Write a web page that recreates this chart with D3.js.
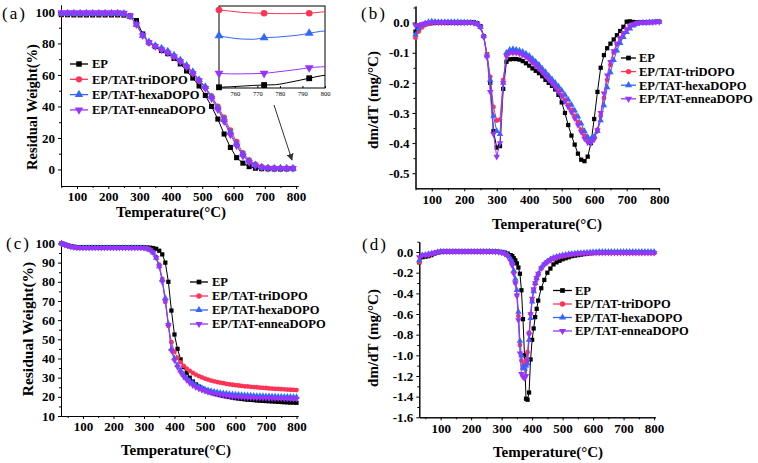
<!DOCTYPE html>
<html><head><meta charset="utf-8">
<script src="https://cdn.jsdelivr.net/npm/d3@7"></script>
<style>body{margin:0;background:#fff} svg{display:block} text{font-family:"Liberation Serif","Times New Roman",serif}</style>
</head><body><svg id="c" width="758" height="463"></svg>
<script>
// ---------- shared ----------
const seriesNames = ["EP", "EP/TAT-triDOPO", "EP/TAT-hexaDOPO", "EP/TAT-enneaDOPO"];
const xTicks = [100, 200, 300, 400, 500, 600, 700, 800];
const xMinor = [50, 150, 250, 350, 450, 550, 650, 750];

// ---------- panel (a) TGA ----------
const tempA = [50,70,90,110,130,150,170,190,210,230,250,270,290,310,330,350,370,390,410,430,450,470,490,510,530,550,570,590,610,630,650,670,690,710,730,750,770,790];
const epA = [98.3,98.2,98.1,98.1,98.1,98.1,98.1,98.1,98.1,98.1,98,97.5,94.5,86,80.5,78,75.5,73.5,70.5,67,62.5,58,53,47,40,32,22.5,14,7.5,4,1.8,0.8,0.5,0.4,0.3,0.3,0.35,0.5];
const triA = [99,99,99,99,99,99,99,99,99,99,98.8,97,92,85,80.5,78.5,76.5,74.5,72,69,65.5,61,56.5,52,46.5,40,33,25,17.6,10.5,6,3.3,1.8,1.2,1,0.9,0.9,0.9];
const hexaA = [99.2,99.2,99.2,99.2,99.2,99.2,99.2,99.2,99.2,99.2,99,97,92,85,81,78.5,77,75,72.5,69.5,66,62,57,52.5,46,39,31.5,23.5,16,9.5,5.2,2.8,1.4,1,0.8,0.8,0.8,0.8];
const enneaA = [99.6,99.6,99.6,99.6,99.6,99.6,99.6,99.6,99.6,99.6,99.3,97.5,92,85,80.5,78,76,74,71.5,68.5,65,61,56.5,51.5,45,38,30.5,22,15,8.5,4.5,2.3,1.1,0.8,0.7,0.7,0.7,0.7];
const yTicksA = [0, 20, 40, 60, 80, 100];

// inset of (a)
const tempInset = [753,758,763,768,773,778,783,788,793,798,800];
const epInset = [0.207,0.212,0.218,0.225,0.229,0.232,0.25,0.272,0.295,0.318,0.324];
const triInset = [0.961,0.95,0.938,0.932,0.929,0.926,0.925,0.926,0.929,0.94,0.944];
const hexaInset = [0.71,0.69,0.678,0.675,0.69,0.695,0.705,0.715,0.734,0.752,0.756];
const enneaInset = [0.343,0.338,0.338,0.34,0.343,0.355,0.368,0.382,0.398,0.406,0.408];
const insetMarkT = [753, 773, 793];
const insetTicks = [760, 770, 780, 790, 800];

// ---------- panel (b) DTG ----------
const tempB = d3.range(50, 801, 10);
const epB = [-0.03,-0.02,-0.012,-0.006,-0.003,-0.002,-0.001,0,0,0,0,0,0,0,0,0,0,0.001,0.001,-0.002,-0.012,-0.045,-0.105,-0.2,-0.36,-0.415,-0.41,-0.22,-0.13,-0.122,-0.121,-0.121,-0.123,-0.128,-0.135,-0.143,-0.152,-0.16,-0.168,-0.178,-0.19,-0.2,-0.21,-0.222,-0.24,-0.265,-0.3,-0.34,-0.375,-0.405,-0.435,-0.455,-0.46,-0.445,-0.4,-0.32,-0.23,-0.15,-0.108,-0.085,-0.07,-0.056,-0.042,-0.028,-0.014,0.003,0.004,0.002,0.001,0.001,0.001,0.001,0.002,0.002,0.003,0.003];
const triB = [-0.05,-0.03,-0.016,-0.008,-0.004,-0.001,0,0,0,0,0.001,0.001,0.001,0.001,0,0,0,0,-0.001,-0.004,-0.015,-0.045,-0.105,-0.18,-0.28,-0.325,-0.322,-0.19,-0.11,-0.1,-0.1,-0.1,-0.102,-0.106,-0.112,-0.12,-0.13,-0.14,-0.15,-0.162,-0.174,-0.186,-0.198,-0.21,-0.224,-0.24,-0.256,-0.273,-0.29,-0.31,-0.33,-0.355,-0.375,-0.388,-0.39,-0.38,-0.355,-0.31,-0.25,-0.19,-0.14,-0.1,-0.072,-0.052,-0.036,-0.024,-0.014,-0.007,-0.003,-0.001,0,0,0.001,0.001,0.002,0.002];
const hexaB = [-0.04,-0.02,-0.008,-0.002,0.002,0.004,0.003,0.002,0.002,0.002,0.002,0.002,0.002,0.002,0.001,0.001,0,0,-0.001,-0.004,-0.015,-0.045,-0.11,-0.19,-0.31,-0.36,-0.37,-0.2,-0.1,-0.09,-0.088,-0.09,-0.093,-0.097,-0.103,-0.11,-0.12,-0.13,-0.14,-0.152,-0.164,-0.176,-0.188,-0.2,-0.212,-0.225,-0.24,-0.256,-0.273,-0.292,-0.312,-0.335,-0.36,-0.38,-0.386,-0.378,-0.36,-0.325,-0.275,-0.215,-0.165,-0.125,-0.093,-0.068,-0.048,-0.032,-0.02,-0.01,-0.004,-0.001,0,0,0.001,0.001,0.002,0.002];
const enneaB = [-0.01,-0.008,-0.005,-0.003,-0.001,0,0,0,0,0,0,0,-0.001,-0.001,-0.001,-0.001,0,0,-0.002,-0.005,-0.016,-0.048,-0.115,-0.23,-0.37,-0.445,-0.4,-0.2,-0.11,-0.1,-0.1,-0.1,-0.103,-0.108,-0.114,-0.122,-0.132,-0.142,-0.153,-0.165,-0.177,-0.19,-0.202,-0.215,-0.23,-0.245,-0.262,-0.28,-0.298,-0.318,-0.34,-0.363,-0.385,-0.398,-0.4,-0.388,-0.358,-0.3,-0.235,-0.175,-0.13,-0.095,-0.07,-0.05,-0.035,-0.022,-0.012,-0.005,-0.002,0,0,0,0.001,0.001,0.002,0.002];
const yTicksB = [0, -0.1, -0.2, -0.3, -0.4, -0.5];
const yMinorB = [0.05, -0.05, -0.15, -0.25, -0.35, -0.45];

// ---------- panel (c) TGA ----------
const tempC = d3.range(30, 801, 10);
const epC = [100,99.5,99,98.6,98.3,98.1,98,98,98,98,98,98,98,98,98,98,98,98,98,98,98,98,98,98,98,98,98,98,97.9,97.8,97.6,97.2,96.2,94.3,90,80,65,52.5,45,39.5,35.5,32.5,30,28,26.5,25.3,24.3,23.5,22.9,22.3,21.8,21.3,20.9,20.5,20.2,19.9,19.6,19.3,19.1,18.9,18.7,18.5,18.4,18.3,18.1,18,17.9,17.8,17.7,17.6,17.5,17.4,17.3,17.2,17.1,17,17,16.9];
const triC = [100,99.3,98.8,98.3,98,97.8,97.7,97.7,97.7,97.7,97.7,97.7,97.7,97.7,97.7,97.7,97.7,97.7,97.7,97.7,97.7,97.7,97.7,97.7,97.7,97.7,97.7,97.7,97.4,96.8,95.5,93,89,81.5,69.5,57,48.5,43.5,40.5,38,36.2,34.7,33.5,32.5,31.6,30.8,30.1,29.5,29,28.5,28.1,27.7,27.4,27.1,26.8,26.5,26.3,26.1,25.9,25.7,25.5,25.4,25.2,25.1,25,24.8,24.7,24.6,24.4,24.3,24.2,24.1,24,23.9,23.8,23.7,23.6,23.5];
const hexaC = [100,99.3,98.8,98.3,98,97.8,97.7,97.7,97.7,97.7,97.7,97.7,97.7,97.7,97.7,97.7,97.7,97.7,97.7,97.7,97.7,97.7,97.7,97.7,97.7,97.7,97.7,97.6,97.3,96.6,95.2,92.5,88,81,71.5,58,45,40,36.5,33.8,31.5,29.8,28.3,27.1,26.1,25.3,24.6,24,23.5,23.1,22.7,22.4,22.1,21.9,21.7,21.5,21.3,21.2,21.1,21,20.9,20.8,20.7,20.6,20.5,20.5,20.4,20.3,20.3,20.2,20.2,20.1,20.1,20,20,20,19.9,19.9];
const enneaC = [100,99.3,98.8,98.3,98,97.8,97.7,97.7,97.7,97.7,97.7,97.7,97.7,97.7,97.7,97.7,97.7,97.7,97.7,97.7,97.7,97.7,97.7,97.7,97.7,97.7,97.7,97.6,97.3,96.6,95.2,92.5,88,80,70,57.5,44,39,35.5,32.8,30.5,28.7,27.2,26,25,24.2,23.5,23,22.5,22.1,21.7,21.4,21.1,20.8,20.6,20.4,20.2,20.1,20,19.9,19.8,19.7,19.6,19.6,19.5,19.5,19.4,19.4,19.3,19.3,19.2,19.2,19.2,19.1,19.1,19.1,19,19];
const yTicksC = [10, 20, 30, 40, 50, 60, 70, 80, 90, 100];
const yMinorC = [15, 25, 35, 45, 55, 65, 75, 85, 95];

// ---------- panel (d) DTG ----------
const tempD = [30,40,50,60,70,80,90,100,110,120,130,140,150,160,170,180,190,200,210,220,230,240,250,260,270,280,290,300,310,320,330,335,340,345,350,355,360,365,370,375,380,385,390,395,400,405,410,415,420,430,440,450,460,470,480,490,500,510,520,530,540,550,560,570,580,590,600,610,620,630,640,650,660,670,680,690,700,710,720,730,740,750,760,770,780,790,800];
const epD = [-0.1,-0.05,-0.045,-0.04,-0.03,-0.015,-0.005,0,0.003,0.005,0.005,0.006,0.006,0.006,0.006,0.006,0.006,0.006,0.006,0.006,0.006,0.006,0.006,0.005,0.005,0.004,0.003,0,-0.005,-0.015,-0.03,-0.04,-0.06,-0.08,-0.11,-0.15,-0.21,-0.37,-0.65,-1.0,-1.42,-1.43,-1.36,-1.04,-0.85,-0.74,-0.63,-0.55,-0.47,-0.35,-0.27,-0.2,-0.16,-0.12,-0.1,-0.085,-0.07,-0.06,-0.05,-0.04,-0.035,-0.03,-0.025,-0.02,-0.015,-0.012,-0.01,-0.008,-0.006,-0.005,-0.004,-0.003,-0.003,-0.003,-0.003,-0.003,-0.004,-0.004,-0.005,-0.005,-0.006,-0.006,-0.006,-0.007,-0.007,-0.007,-0.008];
const triD = [-0.1,-0.03,-0.03,-0.03,-0.02,-0.01,0,0.005,0.006,0.006,0.006,0.006,0.006,0.006,0.006,0.006,0.006,0.006,0.006,0.006,0.006,0.006,0.006,0.005,0.004,0.002,0,-0.005,-0.015,-0.035,-0.08,-0.12,-0.2,-0.3,-0.42,-0.62,-0.9,-1.05,-1.1,-1.08,-1.05,-0.97,-0.78,-0.6,-0.47,-0.37,-0.31,-0.26,-0.22,-0.16,-0.12,-0.1,-0.08,-0.065,-0.055,-0.047,-0.04,-0.035,-0.03,-0.025,-0.02,-0.017,-0.014,-0.012,-0.01,-0.008,-0.006,-0.006,-0.006,-0.006,-0.006,-0.006,-0.006,-0.007,-0.007,-0.007,-0.007,-0.008,-0.008,-0.008,-0.008,-0.009,-0.009,-0.009,-0.009,-0.01,-0.01];
const hexaD = [-0.08,-0.03,-0.025,-0.02,-0.015,-0.008,0,0.005,0.006,0.006,0.006,0.006,0.006,0.006,0.006,0.006,0.006,0.006,0.006,0.006,0.006,0.006,0.006,0.005,0.004,0.002,0,-0.004,-0.012,-0.03,-0.07,-0.1,-0.18,-0.26,-0.37,-0.58,-0.86,-1.0,-1.12,-1.13,-1.1,-1.08,-0.85,-0.64,-0.48,-0.38,-0.3,-0.25,-0.21,-0.15,-0.115,-0.09,-0.07,-0.055,-0.045,-0.037,-0.03,-0.025,-0.02,-0.016,-0.013,-0.01,-0.008,-0.006,-0.004,-0.002,0,0.001,0.002,0.002,0.002,0.002,0.002,0.002,0.002,0.002,0.002,0.002,0.002,0.002,0.002,0.002,0.002,0.002,0.002,0.002,0.002];
const enneaD = [-0.05,-0.03,-0.03,-0.025,-0.015,-0.005,0.002,0.005,0.006,0.006,0.006,0.006,0.006,0.006,0.006,0.006,0.006,0.006,0.006,0.006,0.006,0.006,0.006,0.005,0.004,0.002,0,-0.006,-0.018,-0.04,-0.09,-0.13,-0.21,-0.3,-0.42,-0.66,-0.98,-1.18,-1.21,-1.22,-1.2,-1.05,-0.8,-0.6,-0.45,-0.36,-0.3,-0.25,-0.21,-0.155,-0.12,-0.095,-0.075,-0.06,-0.05,-0.042,-0.035,-0.03,-0.025,-0.02,-0.017,-0.014,-0.012,-0.01,-0.009,-0.008,-0.007,-0.007,-0.007,-0.007,-0.007,-0.007,-0.007,-0.007,-0.008,-0.008,-0.008,-0.008,-0.008,-0.008,-0.008,-0.008,-0.008,-0.008,-0.008,-0.008,-0.008];
const yTicksD = [0, -0.2, -0.4, -0.6, -0.8, -1.0, -1.2, -1.4, -1.6];
const yMinorD = [0.1, -0.1, -0.3, -0.5, -0.7, -0.9, -1.1, -1.3, -1.5];

// ---------- drawing ----------
const svg = d3.select('#c');
const colors = ['#000000', '#ff3355', '#3366ff', '#9933ff'];
const symbols = [d3.symbolSquare, d3.symbolCircle, d3.symbolTriangle, d3.symbolTriangle];
const rot = [0, 0, 0, 180];

svg.append('defs').append('marker').attr('id', 'arr').attr('viewBox', '0 0 10 10')
  .attr('refX', 9).attr('refY', 5).attr('markerWidth', 7).attr('markerHeight', 7).attr('orient', 'auto')
  .append('path').attr('d', 'M0,0 L10,5 L0,10 z').attr('fill', '#333');

function marker(g, cx, cy, i, size) {
  g.append('path').attr('d', d3.symbol(symbols[i], size)())
    .attr('transform', `translate(${cx},${cy}) rotate(${rot[i]})`).attr('fill', colors[i]);
}

function styleAxis(sel, fs) {
  sel.selectAll('text').attr('font-size', fs).attr('font-weight', 'bold').attr('fill', '#000')
    .attr('font-family', '"Liberation Serif", serif');
  sel.select('.domain').attr('stroke', '#000').attr('stroke-width', 1);
  sel.selectAll('.tick line').attr('stroke', '#000');
}

function drawPanel(p) {
  const x = d3.scaleLinear().domain(p.xd).range(p.xr);
  const y = d3.scaleLinear().domain(p.yd).range(p.yr);
  const g = svg.append('g');
  const fmt = p.yfmt || (d => d3.format('d')(d));
  styleAxis(g.append('g').attr('transform', `translate(0,${p.yr[0]})`)
    .call(d3.axisBottom(x).tickValues(xTicks).tickSize(3).tickSizeOuter(0).tickPadding(3).tickFormat(d3.format('d'))), 13);
  styleAxis(g.append('g').attr('transform', `translate(0,${p.yr[0]})`)
    .call(d3.axisBottom(x).tickValues(xMinor).tickSize(2).tickSizeOuter(0).tickFormat('')), 13);
  styleAxis(g.append('g').attr('transform', `translate(${p.xr[0]},0)`)
    .call(d3.axisLeft(y).tickValues(p.yt).tickSize(3).tickSizeOuter(0).tickPadding(3).tickFormat(fmt)), 13);
  styleAxis(g.append('g').attr('transform', `translate(${p.xr[0]},0)`)
    .call(d3.axisLeft(y).tickValues(p.ym).tickSize(2).tickSizeOuter(0).tickFormat('')), 13);

  const line = d3.line().x(d => x(d[0])).y(d => y(d[1]));
  p.series.forEach((s, i) => {
    const pts = p.temps.map((t, k) => [t, s[k]]);
    g.append('path').datum(pts).attr('fill', 'none').attr('stroke', colors[i]).attr('stroke-width', 1).attr('d', line);
    pts.forEach(d => marker(g, x(d[0]), y(d[1]), i, p.ms));
  });

  // legend
  seriesNames.forEach((n, i) => {
    const ly = p.leg.y + i * p.leg.dy;
    g.append('line').attr('x1', p.leg.x1).attr('x2', p.leg.x2).attr('y1', ly).attr('y2', ly)
      .attr('stroke', colors[i]).attr('stroke-width', 1.3);
    marker(g, (p.leg.x1 + p.leg.x2) / 2, ly, i, p.ms + 4);
    g.append('text').attr('x', p.leg.tx).attr('y', ly).attr('dy', '0.35em').text(n)
      .attr('font-size', p.leg.fs).attr('font-weight', 'bold');
  });

  // titles
  g.append('text').attr('x', p.xt[0]).attr('y', p.xt[1]).attr('dy', '0.35em').attr('text-anchor', 'middle')
    .attr('font-size', 15).attr('font-weight', 'bold').text('Temperature(\u00B0C)');
  g.append('text').attr('transform', `translate(${p.yl[0]},${p.yl[1]}) rotate(-90)`).attr('dy', '0.35em')
    .attr('text-anchor', 'middle').attr('font-size', p.yl[2]).attr('font-weight', 'bold').text(p.ytitle);
  g.append('text').attr('x', p.lab[0]).attr('y', p.lab[1]).attr('font-size', 17).attr('letter-spacing', 2).text(p.lab[2]);
  return { x, y, g };
}

const fmt1 = d => (Math.abs(d) < 1e-9 ? 0 : d).toFixed(1);

drawPanel({
  xd: [49, 806], xr: [61, 298], yd: [-10.5, 104.4], yr: [186, 5],
  yt: yTicksA, ym: [10, 30, 50, 70, 90], temps: tempA, series: [epA, triA, hexaA, enneaA], ms: 26,
  leg: { x1: 70, x2: 88, tx: 92, y: 64, dy: 15.3, fs: 12.5 },
  xt: [171, 212], yl: [32, 107, 14.5], ytitle: 'Residual Weight(%)', lab: [2, 19, '(a)']
});
drawPanel({
  xd: [50, 801], xr: [415.5, 659.5], yd: [-0.55, 0.055], yr: [188.3, 6], yfmt: fmt1,
  yt: yTicksB, ym: yMinorB, temps: tempB, series: [epB, triB, hexaB, enneaB], ms: 18,
  leg: { x1: 621, x2: 636, tx: 639, y: 58, dy: 13.6, fs: 12.5 },
  xt: [547, 224], yl: [373, 100, 15], ytitle: 'dm/dT (mg/\u00B0C)', lab: [361, 19, '(b)']
});
drawPanel({
  xd: [28, 805], xr: [61, 298], yd: [10, 101.8], yr: [416, 240],
  yt: yTicksC, ym: yMinorC, temps: tempC, series: [epC, triC, hexaC, enneaC], ms: 18,
  leg: { x1: 190, x2: 208, tx: 212, y: 282, dy: 14, fs: 12.5 },
  xt: [176, 450], yl: [28, 329, 15.5], ytitle: 'Residual Weight(%)', lab: [6, 249, '(c)']
});
drawPanel({
  xd: [30, 804], xr: [419.3, 655.3], yd: [-1.6, 0.1], yr: [417.3, 241.7], yfmt: fmt1,
  yt: yTicksD, ym: yMinorD, temps: tempD, series: [epD, triD, hexaD, enneaD], ms: 18,
  leg: { x1: 553, x2: 572, tx: 575, y: 290.5, dy: 13.5, fs: 12.5 },
  xt: [548, 452], yl: [373, 338, 15], ytitle: 'dm/dT (mg/\u00B0C)', lab: [362, 250, '(d)']
});

// ---------- inset of (a) ----------
(function () {
  const ix = d3.scaleLinear().domain([753, 800]).range([219, 325]);
  const iy = d3.scaleLinear().domain([0.2, 1.0]).range([88, 6]);
  const g = svg.append('g');
  g.append('rect').attr('x', 219).attr('y', 6).attr('width', 106).attr('height', 82)
    .attr('fill', '#fff').attr('stroke', '#000').attr('stroke-width', 1);
  const ax = g.append('g').attr('transform', 'translate(0,88)')
    .call(d3.axisBottom(ix).tickValues(insetTicks).tickSize(-2).tickSizeOuter(0).tickPadding(3).tickFormat(d3.format('d')));
  ax.select('.domain').remove();
  ax.selectAll('text').attr('font-size', 6.5).attr('fill', '#000');
  const sets = [epInset, triInset, hexaInset, enneaInset];
  const line = d3.line().x(d => ix(d[0])).y(d => iy(d[1])).curve(d3.curveMonotoneX);
  sets.forEach((s, i) => {
    const pts = tempInset.map((t, k) => [t, s[k]]);
    g.append('path').datum(pts).attr('fill', 'none').attr('stroke', colors[i]).attr('stroke-width', 1).attr('d', line);
    insetMarkT.forEach(t => {
      const k = tempInset.indexOf(t);
      marker(g, ix(t), iy(s[k]), i, 34);
    });
  });
  svg.append('line').attr('x1', 274).attr('y1', 105).attr('x2', 292).attr('y2', 160)
    .attr('stroke', '#333').attr('stroke-width', 1).attr('marker-end', 'url(#arr)');
})();
</script>
</body></html>
